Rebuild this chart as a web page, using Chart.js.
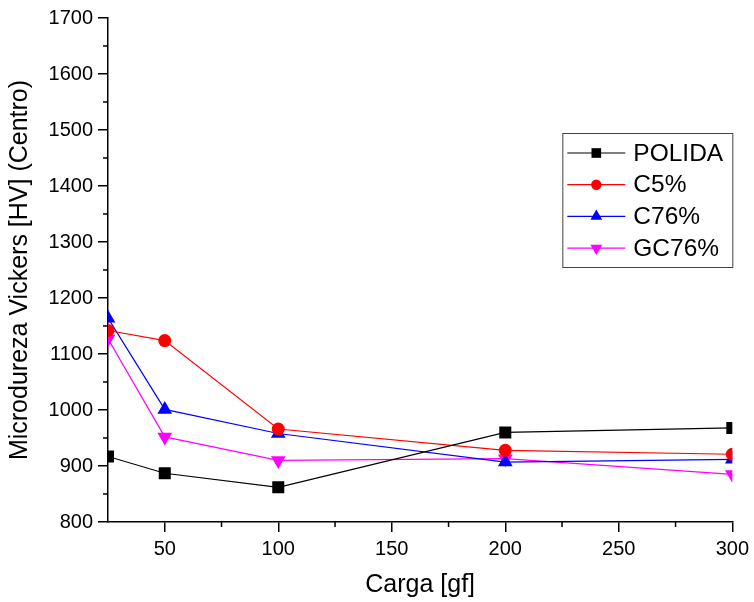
<!DOCTYPE html>
<html>
<head>
<meta charset="utf-8">
<script src="https://cdn.jsdelivr.net/npm/chart.js@4.4.0/dist/chart.umd.min.js"></script>
<style>
html,body{margin:0;padding:0;background:#fff}
#wrap{width:754px;height:602px;position:relative}
</style>
</head>
<body>
<div id="wrap"><canvas id="c"></canvas></div>
<script>
// carga [gf]
const loads=[25,50,100,200,300];
const polida=[917,887,862,960,968];
const c5=[1142,1124,966,928,921];
const c76=[1164,1001,958,907,912];
const gc76=[1127,952,910,913,885];
const xTicks=[50,100,150,200,250,300];
const xMinor=[75,125,175,225,275];
const yTicks=[800,900,1000,1100,1200,1300,1400,1500,1600,1700];
const yMinor=[850,950,1050,1150,1250,1350,1450,1550,1650];

const pts=arr=>arr.map((v,i)=>({x:loads[i],y:v}));
const FONT='"Liberation Sans", Arial, sans-serif';

function ds(label,data,color,style,r,rot){
  return {label,data:pts(data),borderColor:color,backgroundColor:color,borderWidth:1.2,
    pointStyle:style,pointRadius:r,pointHoverRadius:r,pointRotation:rot||0,pointBorderWidth:0,
    tension:0,fill:false,clip:0};
}

// minor ticks (the library only draws the major ones)
const minorTicks={
  id:'minorTicks',
  afterDraw(chart){
    const {ctx,chartArea:a,scales:{x,y}}=chart;
    ctx.save();ctx.strokeStyle='#000';ctx.lineWidth=1.5;
    ctx.beginPath();
    xMinor.forEach(v=>{const px=x.getPixelForValue(v);ctx.moveTo(px,a.bottom);ctx.lineTo(px,a.bottom+5)});
    yMinor.forEach(v=>{const py=y.getPixelForValue(v);ctx.moveTo(a.left,py);ctx.lineTo(a.left-5,py)});
    ctx.stroke();ctx.restore();
  }
};

// boxed legend inside the plot, top right
const boxLegend={
  id:'boxLegend',
  afterDraw(chart){
    const {ctx,chartArea:a}=chart;
    const right=a.right, left=right-170, top=133, h=134;
    ctx.save();
    ctx.strokeStyle='#444';ctx.lineWidth=1;
    ctx.strokeRect(left+0.5,top+0.5,170,h);
    chart.data.datasets.forEach((d,i)=>{
      const yy=top+20+i*31.7;
      ctx.strokeStyle=d.borderColor;ctx.lineWidth=1.2;
      ctx.beginPath();ctx.moveTo(left+5,yy);ctx.lineTo(left+63,yy);ctx.stroke();
      ctx.fillStyle=d.backgroundColor;
      Chart.helpers.drawPoint(ctx,{pointStyle:d.pointStyle,radius:d.pointRadius*0.8,rotation:d.pointRotation,borderWidth:0},left+34,yy);
      ctx.fillStyle='#000';ctx.font='24.5px '+FONT;ctx.textBaseline='middle';ctx.textAlign='left';
      ctx.fillText(d.label,left+71,yy+1);
    });
    ctx.restore();
  }
};

const axisGrid={drawOnChartArea:false,drawTicks:true,tickLength:10,color:'#000',lineWidth:1.5};

new Chart(document.getElementById('c'),{
  type:'line',
  data:{datasets:[
    ds('POLIDA',polida,'#000000','rect',8.5),
    ds('C5%',c5,'#ff0000','circle',6.5),
    ds('C76%',c76,'#0000ff','triangle',8.5),
    ds('GC76%',gc76,'#ff00ff','triangle',8.5,180)
  ]},
  options:{
    responsive:true,maintainAspectRatio:false,animation:false,
    layout:{padding:{top:18,right:21,left:0,bottom:0}},
    plugins:{legend:{display:false},tooltip:{enabled:false}},
    scales:{
      x:{type:'linear',min:25,max:300,
        afterBuildTicks:s=>{s.ticks=xTicks.map(v=>({value:v}))},
        afterFit:s=>{s.height=80},
        grid:axisGrid,border:{display:true,color:'#000',width:1.5},
        ticks:{color:'#000',font:{family:FONT,size:20},padding:5,maxRotation:0,callback:v=>String(v)},
        title:{display:true,text:'Carga [gf]',color:'#000',font:{family:FONT,size:25},padding:{top:0,bottom:2}}
      },
      y:{type:'linear',min:800,max:1700,
        afterBuildTicks:s=>{s.ticks=yTicks.map(v=>({value:v}))},
        afterFit:s=>{s.width=108},
        grid:axisGrid,border:{display:true,color:'#000',width:1.5},
        ticks:{color:'#000',font:{family:FONT,size:20},padding:5,callback:v=>String(v)},
        title:{display:true,text:'Microdureza Vickers [HV] (Centro)',color:'#000',font:{family:FONT,size:25},padding:{top:5,bottom:0}}
      }
    }
  },
  plugins:[minorTicks,boxLegend]
});
</script>
</body>
</html>
